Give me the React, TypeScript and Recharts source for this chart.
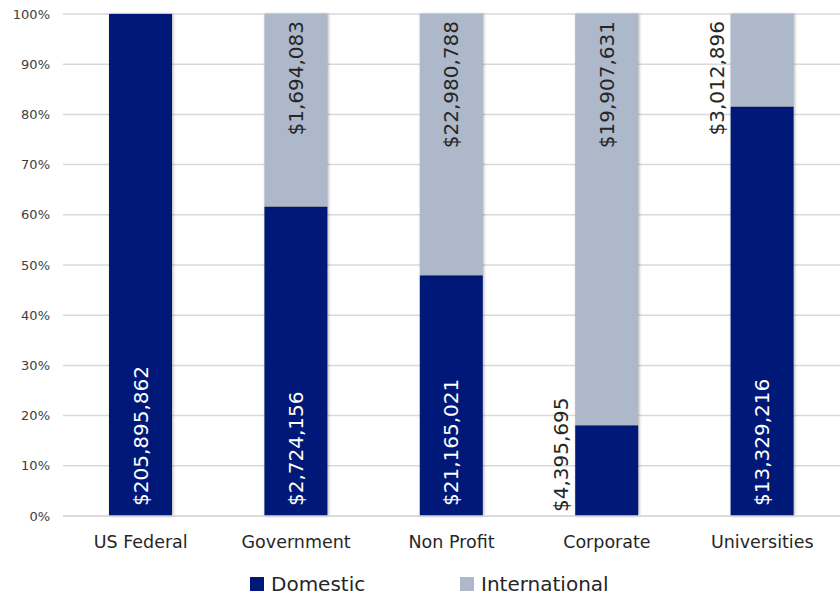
import React from 'react'
import { BarChart, Bar, XAxis, YAxis, CartesianGrid, LabelList } from 'recharts'

const categories = ['US Federal', 'Government', 'Non Profit', 'Corporate', 'Universities']
const domestic = [205895862, 2724156, 21165021, 4395695, 13329216]
const international = [0, 1694083, 22980788, 19907631, 3012896]
const yTicks = [0, 0.1, 0.2, 0.3, 0.4, 0.5, 0.6, 0.7, 0.8, 0.9, 1]

// small bars get their label pushed out to the left of the bar
const domesticOutside = [false, false, false, true, false]
const internationalOutside = [false, false, false, false, true]

const FONT = "'DejaVu Sans', sans-serif"
const DOM_COLOR = '#001978'
const INT_COLOR = '#adb9ca'

const data = categories.map((name, i) => ({
  name,
  domestic: domestic[i],
  international: international[i],
}))

const money = (v: number) => '$' + v.toLocaleString('en-US')

const DomesticLabel = (props: any) => {
  const { x, y, width, height, value } = props
  const i = categories.indexOf(value)
  const v = domestic[i]
  if (!v) return null
  const outside = domesticOutside[i]
  const cx = outside ? x - 14 : x + width / 2
  const cy = y + height - (outside ? 4 : 10)
  return (
    <text
      x={cx}
      y={cy}
      transform={`rotate(-90 ${cx} ${cy})`}
      textAnchor="start"
      dominantBaseline="central"
      fill={outside ? '#262626' : '#ffffff'}
      fontSize={20}
      fontFamily={FONT}
    >
      {money(v)}
    </text>
  )
}

const InternationalLabel = (props: any) => {
  const { x, y, width, value } = props
  const i = categories.indexOf(value)
  const v = international[i]
  if (!v) return null
  const outside = internationalOutside[i]
  const cx = outside ? x - 14 : x + width / 2
  const cy = y + 7
  return (
    <text
      x={cx}
      y={cy}
      transform={`rotate(-90 ${cx} ${cy})`}
      textAnchor="end"
      dominantBaseline="central"
      fill="#262626"
      fontSize={20}
      fontFamily={FONT}
    >
      {money(v)}
    </text>
  )
}

export default function App() {
  const shadow = { filter: 'drop-shadow(1px 0px 1.5px rgba(0,0,0,0.3))' }
  return (
    <div style={{ position: 'absolute', left: 0, top: 0, width: 840, height: 598, background: '#fff' }}>
      <BarChart
        width={840}
        height={560}
        data={data}
        stackOffset="expand"
        margin={{ top: 14, right: 0, left: 0, bottom: 0 }}
      >
        <CartesianGrid vertical={false} stroke="#d9d9d9" strokeWidth={1.5} />
        <XAxis
          dataKey="name"
          height={44}
          tickLine={false}
          axisLine={{ stroke: '#d9d9d9', strokeWidth: 1.5 }}
          tickMargin={14}
          tick={{ fill: '#262626', fontSize: 17.5, fontFamily: FONT }}
        />
        <YAxis
          width={63}
          domain={[0, 1]}
          ticks={yTicks}
          tickFormatter={(v: number) => `${Math.round(v * 100)}%`}
          tickLine={false}
          axisLine={false}
          tickSize={0}
          tickMargin={13}
          tick={{ fill: '#404040', fontSize: 13, fontFamily: FONT }}
        />
        <Bar
          dataKey="domestic"
          stackId="a"
          fill={DOM_COLOR}
          barSize={63}
          style={shadow}
          isAnimationActive={false}
        >
          <LabelList dataKey="name" content={DomesticLabel} />
        </Bar>
        <Bar
          dataKey="international"
          stackId="a"
          fill={INT_COLOR}
          barSize={63}
          style={shadow}
          isAnimationActive={false}
        >
          <LabelList dataKey="name" content={InternationalLabel} />
        </Bar>
      </BarChart>
      <div
        style={{
          position: 'absolute',
          top: 572,
          left: 0,
          width: 840,
          height: 26,
          fontFamily: FONT,
          fontSize: 20,
          color: '#262626',
        }}
      >
        <div style={{ position: 'absolute', left: 250, top: 0, display: 'flex', alignItems: 'center' }}>
          <span style={{ width: 14, height: 14, background: DOM_COLOR, display: 'inline-block', marginRight: 7 }} />
          <span>Domestic</span>
        </div>
        <div style={{ position: 'absolute', left: 460, top: 0, display: 'flex', alignItems: 'center' }}>
          <span style={{ width: 14, height: 14, background: INT_COLOR, display: 'inline-block', marginRight: 7 }} />
          <span>International</span>
        </div>
      </div>
    </div>
  )
}
